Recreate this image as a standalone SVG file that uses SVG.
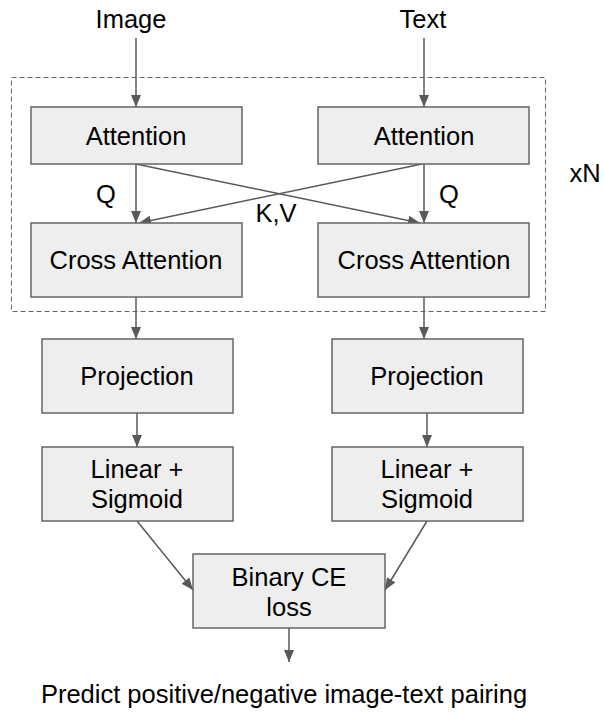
<svg xmlns="http://www.w3.org/2000/svg" width="604" height="716" viewBox="0 0 604 716">
<style>
.box{fill:#eeeeee;stroke:#666666;stroke-width:1.5}
.t{font-family:"Liberation Sans",Arial,sans-serif;font-size:25.5px;fill:#000;text-anchor:middle}
.c{stroke:#595959;stroke-width:1.5;fill:none}
</style>
<defs>
<marker id="ah" viewBox="0 0 12 10" refX="12" refY="5" markerWidth="12" markerHeight="10" markerUnits="userSpaceOnUse" orient="auto">
<path d="M0,0 L12,5 L0,10 z" fill="#595959"/>
</marker>
</defs>
<rect x="11.5" y="77.5" width="534" height="234" fill="none" stroke="#666666" stroke-width="1" stroke-dasharray="5,3"/>
<text class="t" x="131" y="28">Image</text>
<text class="t" x="423" y="28">Text</text>
<text class="t" x="585" y="182">xN</text>
<g id="connectors">
<line class="c" x1="136" y1="38" x2="136" y2="107" marker-end="url(#ah)"/>
<line class="c" x1="424" y1="38" x2="424" y2="107" marker-end="url(#ah)"/>
<line class="c" x1="136" y1="164" x2="136" y2="223" marker-end="url(#ah)"/>
<line class="c" x1="424" y1="164" x2="424" y2="223" marker-end="url(#ah)"/>
<line class="c" x1="136" y1="164" x2="420" y2="223" marker-end="url(#ah)"/>
<line class="c" x1="422" y1="164" x2="139" y2="223" marker-end="url(#ah)"/>
<line class="c" x1="136" y1="297" x2="136" y2="339" marker-end="url(#ah)"/>
<line class="c" x1="424" y1="297" x2="424" y2="339" marker-end="url(#ah)"/>
<line class="c" x1="137" y1="413" x2="137" y2="447" marker-end="url(#ah)"/>
<line class="c" x1="427" y1="413" x2="427" y2="447" marker-end="url(#ah)"/>
<line class="c" x1="137" y1="521" x2="193" y2="590" marker-end="url(#ah)"/>
<line class="c" x1="427" y1="521" x2="385" y2="590" marker-end="url(#ah)"/>
<line class="c" x1="289" y1="628" x2="289" y2="662" marker-end="url(#ah)"/>
<text class="t" x="106" y="203">Q</text>
<text class="t" x="449" y="203">Q</text>
<text class="t" x="276" y="222">K,V</text>
</g>
<g id="attn-img"><rect class="box" x="31" y="107" width="211" height="57"/><text class="t" x="136" y="145">Attention</text></g>
<g id="attn-txt"><rect class="box" x="318" y="107" width="211" height="57"/><text class="t" x="424" y="145">Attention</text></g>
<g id="cross-img"><rect class="box" x="31" y="223" width="211" height="74"/><text class="t" x="136" y="269">Cross Attention</text></g>
<g id="cross-txt"><rect class="box" x="318" y="223" width="211" height="74"/><text class="t" x="424" y="269">Cross Attention</text></g>
<g id="proj-img"><rect class="box" x="42" y="339" width="191" height="74"/><text class="t" x="137" y="385">Projection</text></g>
<g id="proj-txt"><rect class="box" x="332" y="339" width="191" height="74"/><text class="t" x="427" y="385">Projection</text></g>
<g id="lin-img"><rect class="box" x="42" y="447" width="191" height="74"/><text class="t" x="137" y="478">Linear +</text><text class="t" x="137" y="508">Sigmoid</text></g>
<g id="lin-txt"><rect class="box" x="332" y="447" width="191" height="74"/><text class="t" x="427" y="478">Linear +</text><text class="t" x="427" y="508">Sigmoid</text></g>
<g id="bce"><rect class="box" x="193" y="554" width="192" height="74"/><text class="t" x="289" y="586">Binary CE</text><text class="t" x="289" y="616">loss</text></g>
<text class="t" x="284" y="703">Predict positive/negative image-text pairing</text>
</svg>
